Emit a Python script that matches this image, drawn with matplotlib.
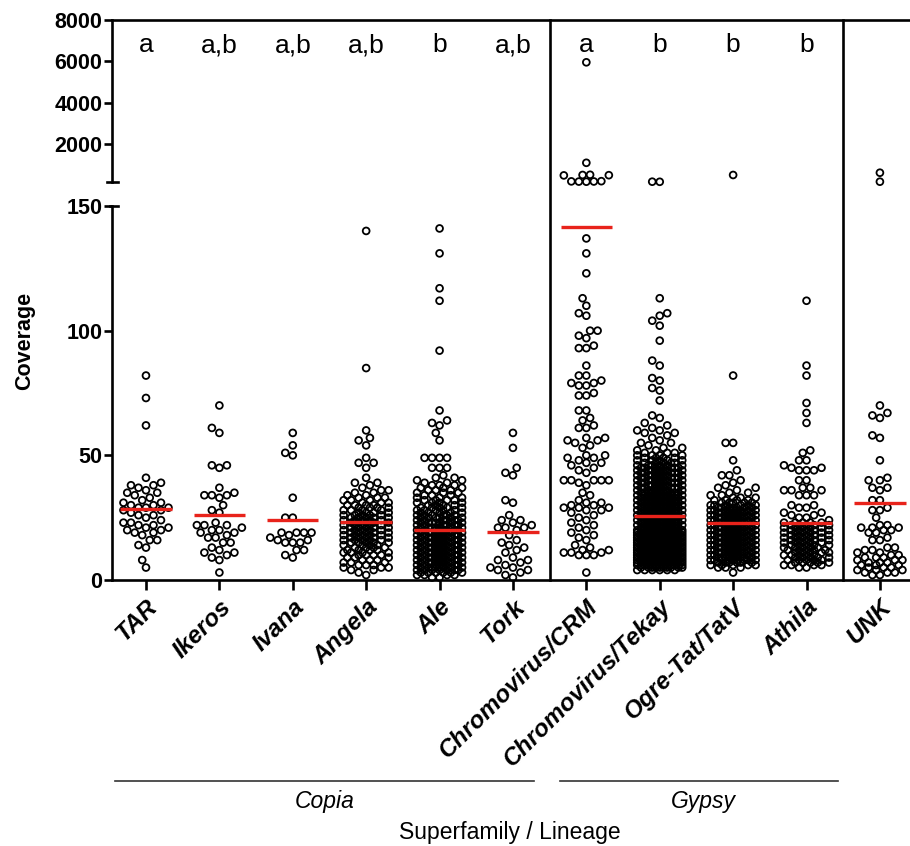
import numpy as np
import matplotlib
matplotlib.use("Agg")
import matplotlib.pyplot as plt
from matplotlib.lines import Line2D
from matplotlib.transforms import blended_transform_factory

plt.rcParams["font.family"] = ["Liberation Sans", "DejaVu Sans"]

# ---------------------------------------------------------------- data
CATEGORIES = ["TAR", "Ikeros", "Ivana", "Angela", "Ale", "Tork",
              "Chromovirus/CRM", "Chromovirus/Tekay", "Ogre-Tat/TatV",
              "Athila", "UNK"]
LETTERS = ["a", "a,b", "a,b", "a,b", "b", "a,b", "a", "b", "b", "b", ""]
MEANS = [28.6, 26.1, 24.0, 23.4, 20.2, 19.2, 141.5, 25.7, 23.0, 23.0, 30.7]

TAR = [82, 73, 62, 41, 39, 38, 38, 37, 36, 35, 35, 34, 33, 32, 31, 31, 30,
       30, 29, 29, 29, 28, 28, 27, 26, 26, 25, 24, 23, 23, 22, 22, 21, 21,
       20, 20, 19, 19, 18, 16, 16, 14, 13, 8, 5]
IKEROS = [70, 61, 59, 46, 46, 45, 37, 35, 34, 34, 34, 33, 30, 28, 27, 23, 22,
          22, 22, 21, 20, 20, 19, 19, 18, 17, 17, 15, 15, 13, 12, 11, 11, 10,
          9, 8, 3]
IVANA = [59, 54, 51, 50, 33, 25, 25, 19, 19, 19, 19, 18, 17, 16, 16, 15, 15,
         15, 12, 12, 10, 9]
TORK = [59, 53, 45, 43, 42, 32, 31, 26, 24, 24, 23, 22, 21, 21, 21, 20, 18,
        16, 15, 14, 13, 12, 11, 9, 8, 8, 7, 6, 5, 5, 4, 4, 3, 2, 1]

# dense columns: isolated values plus counts per integer coverage level
ANGELA_SPARSE = [140, 85, 60, 57, 56, 54, 49, 47, 47, 45, 41, 39, 39, 38, 37]
ANGELA_FROM = 2
ANGELA_COUNTS = [1, 1, 2, 3, 3, 3, 3, 3, 4, 4, 4, 4, 4, 5, 5, 5, 5, 5, 5, 5,
                 5, 5, 5, 5, 5, 4, 4, 4, 4, 3, 3, 3, 2, 2, 2]

ALE_SPARSE = [141, 131, 117, 112, 92, 68, 64, 63, 62, 59, 56, 49, 49, 49, 49,
              45, 45, 45, 42, 41, 41, 40, 40, 39, 39, 38, 38, 38]
ALE_FROM = 1
ALE_COUNTS = [2, 4, 6, 7, 8, 8, 8, 8, 8, 8, 8, 8, 8, 8, 8, 8, 8, 8, 8, 8, 7,
              7, 7, 6, 6, 6, 5, 5, 5, 4, 4, 4, 3, 3, 3, 3, 3]

CRM = [5950, 1080, 500, 490, 480, 470, 190, 180, 175, 170, 165,
       137, 131, 123, 113, 110, 107, 106, 100, 100, 98, 97, 94, 93, 93, 86,
       82, 82, 80, 79, 79, 78, 78, 75, 74, 74, 68, 68, 65, 64, 62, 61, 61, 57,
       57, 56, 56, 55, 54, 53, 50, 50, 49, 49, 48, 47, 47, 46, 45, 44, 43, 40,
       40, 40, 40, 40, 39, 38, 35, 34, 32, 31, 31, 30, 30, 29, 29, 29, 28, 28,
       27, 26, 25, 24, 23, 22, 21, 20, 19, 18, 17, 16, 14, 13, 12, 12, 11, 11,
       11, 10, 10, 10, 3]

TEKAY_SPARSE = [165, 160, 113, 107, 106, 104, 102, 96, 88, 86, 81, 80, 77, 76,
                72, 66, 65, 63, 62, 61, 60, 60, 59, 59, 58, 57, 56, 55, 55, 54,
                53, 53, 52, 52]
TEKAY_FROM = 4
TEKAY_COUNTS = [6, 10, 13, 13, 13, 13, 13, 13, 13, 13, 13, 13, 13, 13, 13, 13,
                13, 11, 11, 11, 11, 11, 11, 11, 11, 11, 11, 11, 11, 11, 11, 11,
                8, 8, 8, 8, 8, 8, 8, 8, 8, 8, 6, 5, 5, 4, 4, 3]

OGRE_SPARSE = [490, 82, 55, 55, 48, 44, 42, 42, 40, 39, 38, 37, 37, 36, 35,
               35, 34, 34, 33, 33, 33, 3]
OGRE_FROM = 5
OGRE_COUNTS = [3, 5, 6, 9, 9, 9, 9, 9, 9, 9, 9, 9, 9, 9, 9, 9, 9, 9, 9, 9, 9,
               9, 9, 9, 7, 6, 5, 4]

ATHILA_SPARSE = [112, 86, 82, 71, 67, 63, 52, 51, 48, 48, 46, 45, 45, 44, 44,
                 44, 40, 40, 37, 37, 36, 36, 36, 34, 34, 34, 30, 30, 29, 29,
                 27, 27, 26, 26, 25, 25, 24]
ATHILA_FROM = 5
ATHILA_COUNTS = [2, 4, 5, 5, 5, 5, 5, 5, 5, 5, 5, 5, 5, 5, 5, 5, 5, 5, 5]

UNK = [600, 165, 70, 67, 66, 65, 58, 57, 48, 41, 40, 40, 37, 37, 36, 32, 32,
       29, 28, 28, 25, 22, 22, 21, 21, 21, 20, 20, 19, 19, 17, 16, 16, 13, 13,
       12, 12, 11, 11, 10, 10, 9, 9, 9, 8, 8, 8, 7, 7, 7, 6, 6, 6, 5, 5, 5, 4,
       4, 4, 3, 3, 3, 2, 2]


def with_levels(sparse, start, counts):
    levels = np.arange(start, start + len(counts))
    return np.concatenate([np.asarray(sparse, float),
                           np.repeat(levels, counts).astype(float)])


SERIES = [
    np.asarray(TAR, float),
    np.asarray(IKEROS, float),
    np.asarray(IVANA, float),
    with_levels(ANGELA_SPARSE, ANGELA_FROM, ANGELA_COUNTS),
    with_levels(ALE_SPARSE, ALE_FROM, ALE_COUNTS),
    np.asarray(TORK, float),
    np.asarray(CRM, float),
    with_levels(TEKAY_SPARSE, TEKAY_FROM, TEKAY_COUNTS),
    with_levels(OGRE_SPARSE, OGRE_FROM, OGRE_COUNTS),
    with_levels(ATHILA_SPARSE, ATHILA_FROM, ATHILA_COUNTS),
    np.asarray(UNK, float),
]

# ---------------------------------------------------------------- layout
W, H = 910, 846
fig = plt.figure(figsize=(W / 100, H / 100), dpi=100)


def fx(px):
    return px / W


def fy(py):
    return 1 - py / H


LEFT, RIGHT = 112, 910
ax_lo = fig.add_axes([fx(LEFT), fy(580), fx(RIGHT) - fx(LEFT), fy(206) - fy(580)])
ax_hi = fig.add_axes([fx(LEFT), fy(182), fx(RIGHT) - fx(LEFT), fy(20) - fy(182)])

BREAK = 150
XLIM = (0.537, 11.41)
ax_lo.set_xlim(*XLIM)
ax_hi.set_xlim(*XLIM)
ax_lo.set_ylim(0, BREAK)
ax_hi.set_ylim(BREAK, 8000)

SPINE_W = 1.9
for ax in (ax_lo, ax_hi):
    for s in ax.spines.values():
        s.set_linewidth(SPINE_W)
ax_lo.spines["top"].set_visible(False)
ax_lo.spines["right"].set_visible(False)
ax_hi.spines["bottom"].set_visible(False)
ax_hi.spines["right"].set_visible(False)

tick_font = dict(fontsize=15.5, fontweight="bold")
ax_lo.set_yticks([0, 50, 100, 150])
ax_lo.set_yticklabels(["0", "50", "100", "150"], **tick_font)
ax_hi.set_yticks([2000, 4000, 6000, 8000])
ax_hi.set_yticklabels(["2000", "4000", "6000", "8000"], **tick_font)
for ax in (ax_lo, ax_hi):
    ax.tick_params(axis="y", direction="out", length=6, width=SPINE_W, pad=1)
ax_hi.tick_params(axis="x", which="both", bottom=False, labelbottom=False)

ax_lo.set_xticks(np.arange(1, len(CATEGORIES) + 1))
ax_lo.set_xticklabels(CATEGORIES, rotation=45, ha="right",
                      rotation_mode="anchor", fontsize=17.5,
                      fontweight="bold", fontstyle="italic")
ax_lo.tick_params(axis="x", direction="out", length=7, width=SPINE_W, pad=4)


# ---------------------------------------------------------------- swarm
def swarm(ax, xc, values, d=7.5, max_w=25.0, step=3.75):
    """Spread points sideways (in pixels) so the circles do not overlap."""
    trans = ax.transData
    pts = trans.transform(np.column_stack([np.full(len(values), xc), values]))
    x0, ypix = pts[0, 0], pts[:, 1]
    cands = np.arange(0, max_w + 1e-6, step)
    cands = np.concatenate([[0.0], np.ravel(np.column_stack([-cands[1:], cands[1:]]))])
    order = np.argsort(ypix, kind="stable")
    px = np.zeros(len(values))
    placed_x, placed_y = [], []
    for i in order:
        y = ypix[i]
        off = 0.0
        if placed_x:
            ax_ = np.asarray(placed_x)
            ay_ = np.asarray(placed_y)
            near = np.abs(ay_ - y) < d
            if near.any():
                dx = cands[:, None] - ax_[near][None, :]
                dy = (ay_[near] - y)[None, :]
                mind = np.sqrt(dx ** 2 + dy ** 2).min(axis=1)
                ok = mind >= d
                off = cands[ok][0] if ok.any() else cands[np.argmax(mind)]
        px[i] = off
        placed_x.append(off)
        placed_y.append(y)
    data = trans.inverted().transform(np.column_stack([x0 + px, ypix]))
    return data[:, 0], data[:, 1]


marker_kw = dict(s=24, facecolors="none", edgecolors="black",
                 linewidths=1.3, clip_on=False, zorder=3)
for k, vals in enumerate(SERIES):
    xc = k + 1
    low = vals[vals <= BREAK]
    high = vals[vals > BREAK]
    if len(low):
        xs, ys = swarm(ax_lo, xc, low)
        ax_lo.scatter(xs, ys, **marker_kw)
    if len(high):
        xs, ys = swarm(ax_hi, xc, high)
        ax_hi.scatter(xs, ys, **marker_kw)

# mean bars
for k, m in enumerate(MEANS):
    ax = ax_lo if m <= BREAK else ax_hi
    ax.plot([k + 1 - 0.35, k + 1 + 0.35], [m, m], color="#e8231b",
            lw=2.4, solid_capstyle="butt", zorder=4, clip_on=False)

# significance letters
lt = blended_transform_factory(ax_hi.transData, ax_hi.transAxes)
for k, lab in enumerate(LETTERS):
    if lab:
        ax_hi.text(k + 1, 0.845, lab, transform=lt, ha="center", va="center",
                   fontsize=19)

# vertical separators between superfamilies (span both panels)
sep_t = blended_transform_factory(ax_lo.transData, fig.transFigure)
for xs in (6.5, 10.5):
    fig.add_artist(Line2D([xs, xs], [fy(580), fy(20)], transform=sep_t,
                          color="black", lw=SPINE_W))

# axis-break caps
fig.add_artist(Line2D([fx(107), fx(118)], [fy(182), fy(182)],
                      transform=fig.transFigure, color="black", lw=SPINE_W))
fig.add_artist(Line2D([fx(110), fx(118)], [fy(206), fy(206)],
                      transform=fig.transFigure, color="black", lw=SPINE_W))

# axis titles
fig.text(fx(25), fy(341), "Coverage", rotation=90, ha="center", va="center",
         fontsize=15.5, fontweight="bold")

# superfamily brackets
for (x0, x1, label, xc) in [(115, 534, "Copia", 325), (560, 838, "Gypsy", 703)]:
    fig.add_artist(Line2D([fx(x0), fx(x1)], [fy(781), fy(781)],
                          transform=fig.transFigure, color="#333333", lw=1.2))
    fig.text(fx(xc), fy(801), label, ha="center", va="center", fontsize=16.5,
             fontstyle="italic")
fig.text(fx(510), fy(832), "Superfamily / Lineage", ha="center", va="center",
         fontsize=16.5)

fig.savefig("out.png", dpi=100)
